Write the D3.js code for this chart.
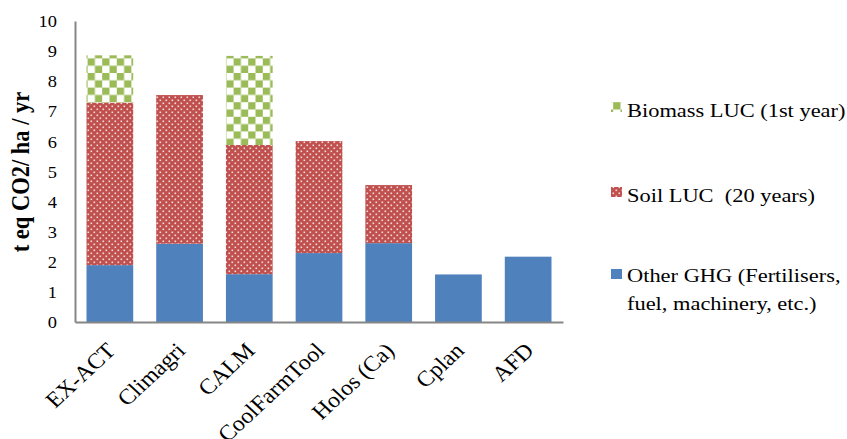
<!DOCTYPE html>
<html><head><meta charset="utf-8">
<script src="https://cdn.jsdelivr.net/npm/d3@7"></script>
<style>body{margin:0;background:#fff}svg{display:block}text{font-family:"Liberation Serif","Times New Roman",serif;fill:#000}</style>
</head><body>
<svg id="c" width="847" height="439"></svg>
<script>
const categories = ["EX-ACT","Climagri","CALM","CoolFarmTool","Holos (Ca)","Cplan","AFD"];
const otherGHG = [1.89, 2.60, 1.59, 2.29, 2.62, 1.58, 2.17];
const soilLUC  = [5.40, 4.94, 4.29, 3.72, 1.93, 0, 0];
const biomassLUC = [1.57, 0, 2.96, 0, 0, 0, 0];
const seriesNames = ["Other GHG (Fertilisers, fuel, machinery, etc.)","Soil LUC  (20 years)","Biomass LUC (1st year)"];
const yTicks = [0,1,2,3,4,5,6,7,8,9,10];
const yTitle = "t eq CO2/ ha / yr";

const SERIF = '"Liberation Serif","Times New Roman",serif';
const SX = 1.15;
const svg = d3.select("#c");
const defs = svg.append("defs");
const pg = defs.append("pattern").attr("id","pGreen").attr("patternUnits","userSpaceOnUse").attr("width",14.6).attr("height",14.6);
pg.append("rect").attr("width",14.6).attr("height",14.6).attr("fill","#fff");
pg.append("rect").attr("width",7.3).attr("height",7.3).attr("fill","#9BBB59");
pg.append("rect").attr("x",7.3).attr("y",7.3).attr("width",7.3).attr("height",7.3).attr("fill","#9BBB59");
const pr = defs.append("pattern").attr("id","pRed").attr("patternUnits","userSpaceOnUse").attr("width",6).attr("height",6);
pr.append("rect").attr("width",6).attr("height",6).attr("fill","#C0504D");
pr.append("rect").attr("x",0.5).attr("y",0.5).attr("width",1.6).attr("height",1.6).attr("fill","#f3dcdc");
pr.append("rect").attr("x",3.5).attr("y",3.5).attr("width",1.6).attr("height",1.6).attr("fill","#f3dcdc");

const mLeft = 75, mRight = 563, mTop = 21, mBottom = 322;
const x = d3.scaleBand().domain(categories).range([mLeft,mRight]).paddingInner(0.33).paddingOuter(0.165);
const y = d3.scaleLinear().domain([0,10]).range([mBottom,mTop]);

const rows = categories.map((c,i)=>({cat:c, other:otherGHG[i], soil:soilLUC[i], biomass:biomassLUC[i]}));
const stack = d3.stack().keys(["other","soil","biomass"])(rows);
const fills = {other:"#4F81BD", soil:"url(#pRed)", biomass:"url(#pGreen)"};

svg.append("g").selectAll("g").data(stack).join("g")
  .attr("fill", d=>fills[d.key])
  .selectAll("rect").data(d=>d.filter(p=>p[1]-p[0]>0)).join("rect")
  .attr("x", d=>x(d.data.cat)).attr("width", x.bandwidth())
  .attr("y", d=>y(d[1])).attr("height", d=>y(d[0])-y(d[1]));

const ya = svg.append("g").attr("transform",`translate(${mLeft},0)`)
  .call(d3.axisLeft(y).tickValues(yTicks).tickSize(0).tickPadding(0).tickFormat(d3.format("d")));
ya.attr("font-family",SERIF);
ya.select(".domain").attr("stroke","#868686").attr("stroke-width",2);
ya.selectAll(".tick text").attr("font-size",16).attr("x",0).attr("dy","0.35em").style("font-family",SERIF)
  .attr("transform", `translate(-18,0) scale(${SX},1)`).attr("text-anchor","end");

const xa = svg.append("g").attr("transform",`translate(0,${mBottom})`)
  .call(d3.axisBottom(x).tickSize(0).tickPadding(0));
xa.attr("font-family",SERIF);
xa.select(".domain").attr("stroke","#868686").attr("stroke-width",2);
xa.selectAll(".tick text").attr("font-size",22).attr("y",0).attr("dy",0).style("font-family",SERIF)
  .attr("text-anchor","end").attr("transform","translate(7,30) scale(1.08,1) rotate(-45)");

svg.append("text").attr("transform",`translate(29,172) scale(${SX},1) rotate(-90)`).style("font-family",SERIF)
  .attr("text-anchor","middle").attr("font-size",22.5).attr("font-weight","bold").text(yTitle);

const legend = [
  {fill:"url(#pGreen)", sq:102, lines:[117]},
  {fill:"url(#pRed)", sq:187, lines:[202]},
  {fill:"#4F81BD", sq:269, lines:[282,310]}
];
const lineTexts = [["Biomass LUC (1st year)"],["Soil LUC  (20 years)"],["Other GHG (Fertilisers,","fuel, machinery, etc.)"]];
const lg = svg.append("g");
legend.forEach((l,i)=>{
  lg.append("rect").attr("x",611).attr("y",l.sq).attr("width",11).attr("height",10).attr("fill",l.fill);
  l.lines.forEach((b,j)=>{
    lg.append("text").attr("transform",`translate(627,${b}) scale(${SX},1)`).attr("font-size",19.5)
      .style("font-family",SERIF).style("white-space","pre").text(lineTexts[i][j]);
  });
});
</script>
</body></html>
